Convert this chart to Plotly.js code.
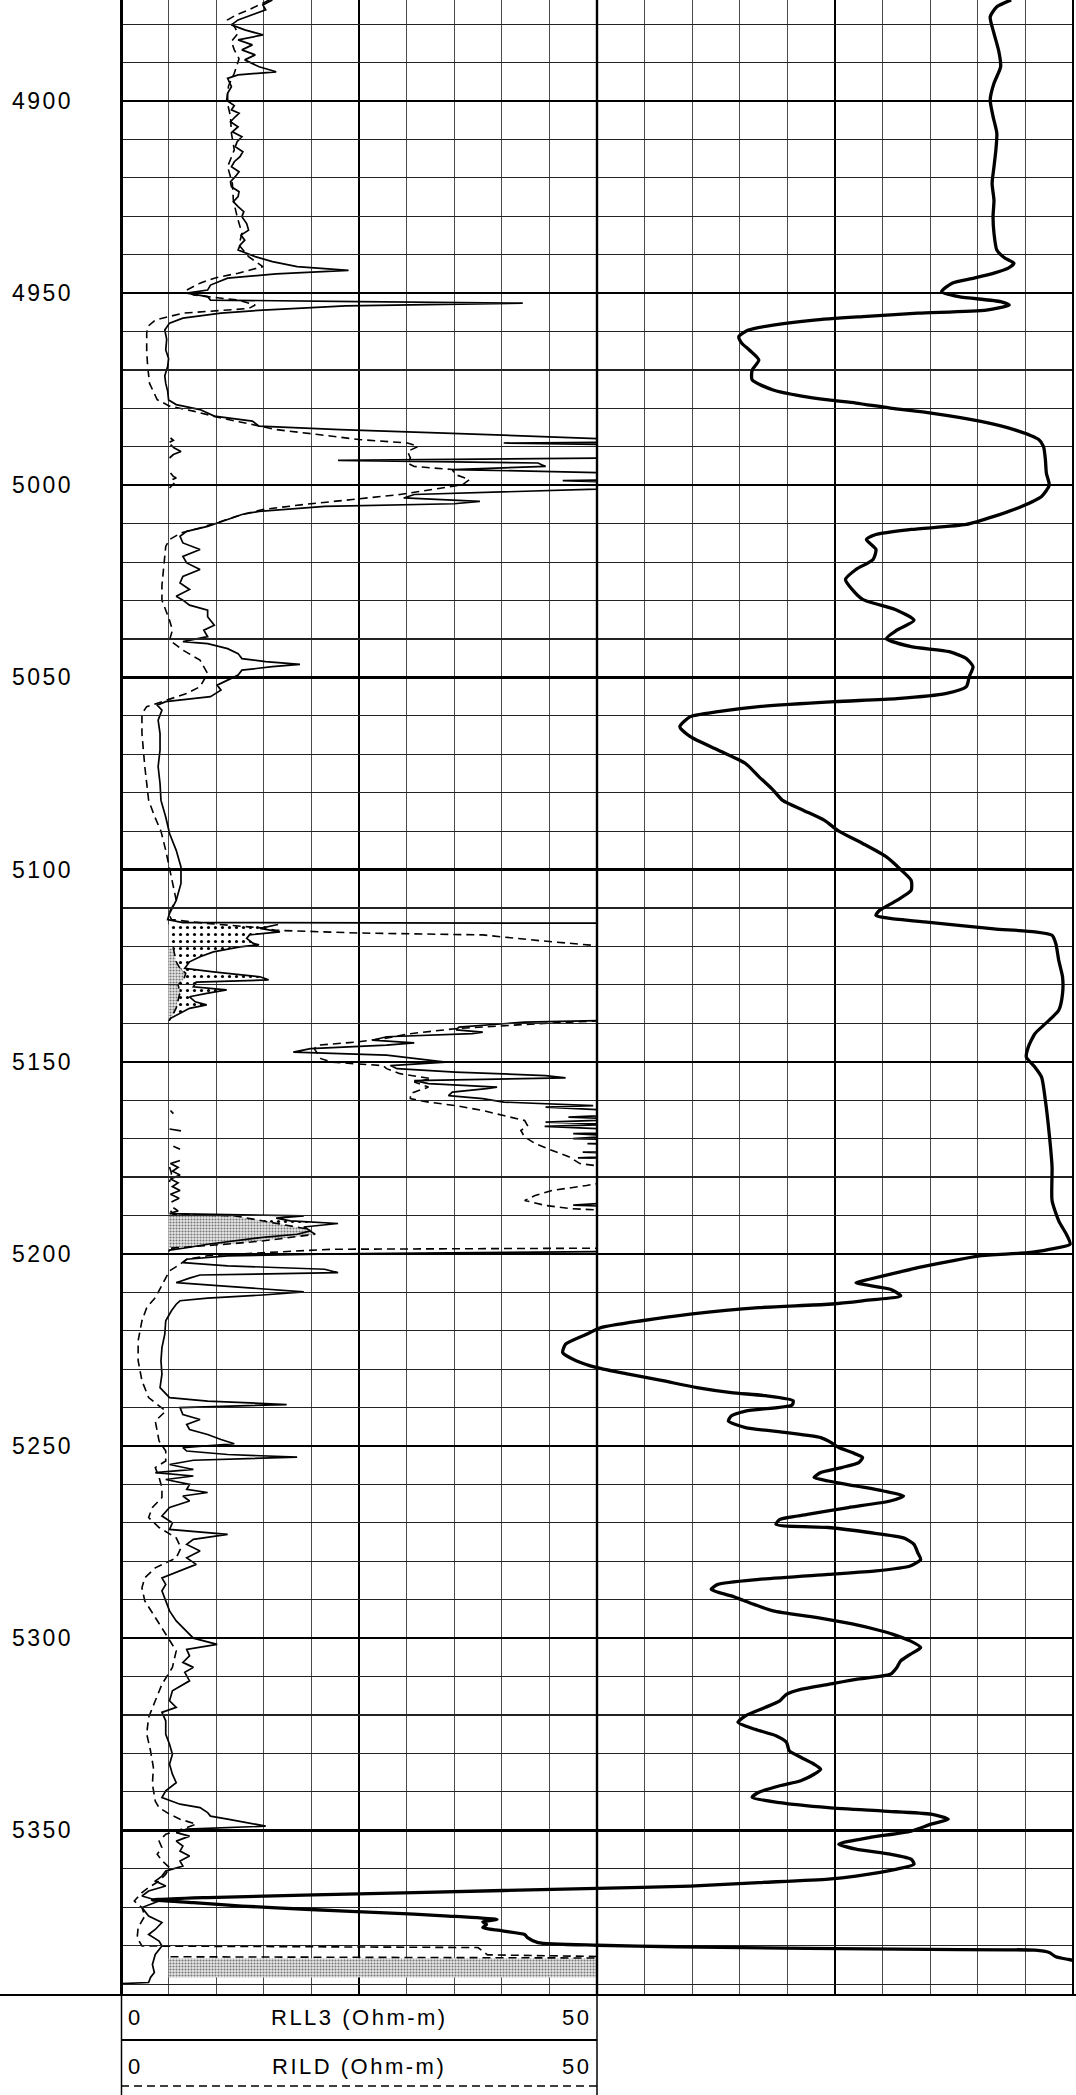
<!DOCTYPE html>
<html><head><meta charset="utf-8">
<script src="https://cdn.plot.ly/plotly-3.0.1.min.js"></script>
<style>
html,body{margin:0;padding:0;background:#fff;}
#chart{width:1076px;height:2095px;}
.annotation-text{letter-spacing:2.5px;}
</style></head><body><div id="chart"></div><script>
// ---------------- DATA ----------------
const depthTicks = [4900, 4950, 5000, 5050, 5100, 5150, 5200, 5250, 5300, 5350];
const depthTickText = ['4900','4950','5000','5050','5100','5150','5200','5250','5300','5350'];
const legendRows = [
  {name: 'RLL3 (Ohm-m)', lo: '0', hi: '50'},
  {name: 'RILD (Ohm-m)', lo: '0', hi: '50'}
];
// RLL3 [depth ft, ohm-m]; values above 50 are shown on the x10 back-up scale
const rll3Pts = [[4873.7,15.9],[4875.0,14.9],[4876.3,15.2],[4877.6,13.8],[4878.9,12.3],[4880.2,11.6],[4881.5,13.0],[4882.8,14.9],[4884.1,12.3],[4885.4,13.8],[4886.7,12.7],[4888.0,14.1],[4889.3,13.0],[4891.1,14.5],[4892.4,16.3],[4893.2,12.3],[4894.1,11.2],[4896.3,11.6],[4898.0,11.2],[4900.0,11.2],[4901.2,11.9],[4902.3,11.6],[4903.2,12.4],[4904.1,12.0],[4905.4,11.5],[4906.7,12.3],[4908.0,11.7],[4909.3,12.7],[4910.6,12.2],[4911.9,12.0],[4913.2,12.8],[4914.5,12.5],[4915.8,11.9],[4917.1,11.6],[4918.4,12.4],[4919.7,12.0],[4921.0,11.5],[4922.3,11.6],[4923.6,12.4],[4924.9,12.3],[4926.2,11.8],[4927.5,12.3],[4928.8,12.9],[4930.1,12.7],[4931.9,13.2],[4933.6,13.4],[4934.9,12.6],[4936.2,13.0],[4937.5,12.5],[4938.8,12.3],[4940.5,14.1],[4941.8,15.9],[4943.1,18.5],[4944.1,23.9],[4945.0,16.3],[4946.1,11.2],[4947.9,9.4],[4949.2,9.1],[4950.0,6.9],[4950.9,9.1],[4951.8,9.4],[4952.2,25.0],[4952.6,42.2],[4953.3,23.6],[4954.4,14.9],[4955.2,10.5],[4956.5,6.5],[4957.8,5.1],[4959.6,4.6],[4962.0,4.8],[4964.8,4.7],[4967.0,5.0],[4969.1,4.9],[4971.5,4.6],[4973.5,4.7],[4975.5,4.9],[4977.8,5.0],[4979.0,5.8],[4980.3,8.3],[4982.0,9.8],[4983.3,13.8],[4984.6,14.5],[4985.5,23.0],[4986.4,34.0],[4987.3,44.6],[4987.7,52],[4988.3,55],[4988.8,51],[4989.0,40.2],[4989.4,52],[4990.3,56],[4991.2,63],[4992.0,55],[4992.9,51],[4993.5,22.8],[4994.2,43.8],[4995.1,44.6],[4995.9,34.8],[4996.8,52],[4997.7,55],[4998.1,58],[4998.5,54],[4998.8,46.4],[4999.4,56],[5000.1,53],[5000.7,51],[5001.0,50],[5002.4,30.8],[5003.3,29.7],[5004.2,37.7],[5004.8,35.0],[5005.5,21.4],[5006.8,14.5],[5007.6,12.7],[5008.9,11.2],[5010.7,9.1],[5012.0,6.9],[5013.3,6.2],[5015.0,6.5],[5016.7,8.3],[5018.5,6.5],[5020.2,6.9],[5021.9,8.3],[5023.7,6.5],[5025.4,6.2],[5027.1,7.2],[5028.9,5.8],[5029.9,6.5],[5031.2,7.2],[5032.5,9.1],[5034.2,9.1],[5036.4,9.8],[5037.7,8.7],[5039.4,9.1],[5040.7,6.5],[5041.2,9.1],[5042.5,11.2],[5043.8,12.3],[5045.1,12.7],[5045.9,15.2],[5046.6,18.8],[5047.2,15.9],[5048.1,12.7],[5049.4,12.3],[5050.7,11.2],[5052.0,10.1],[5053.3,10.5],[5055.0,9.4],[5056.3,4.7],[5057.2,3.8],[5058.5,4.3],[5061.1,3.9],[5064.6,4.1],[5068.9,4.1],[5073.2,3.9],[5077.6,4.1],[5082.0,4.2],[5086.3,4.7],[5090.6,5.1],[5095.0,5.8],[5099.3,6.3],[5103.6,6.3],[5108.0,5.8],[5111.4,5.1],[5113.0,4.9],[5113.8,6.5],[5114.3,165],[5115.3,146],[5116.2,167],[5117.0,135],[5117.9,132],[5119.2,139],[5119.6,145],[5120.1,125],[5121.4,97],[5122.7,83],[5124.0,72],[5125.7,67],[5126.6,97],[5127.9,146],[5128.7,155],[5129.3,79],[5130.5,76],[5131.3,111],[5132.2,90],[5133.1,72],[5134.4,78],[5135.2,90],[5136.1,72],[5137.4,62],[5138.7,52],[5139.3,50.5],[5139.7,42.4],[5141.0,35.5],[5141.7,35.2],[5142.3,38.0],[5142.7,36.9],[5143.5,27.9],[5144.4,26.4],[5145.1,30.8],[5145.7,27.9],[5146.6,19.9],[5147.5,18.1],[5148.3,27.9],[5149.2,30.8],[5150.1,34.1],[5151.0,28.3],[5151.8,29.0],[5152.7,35.1],[5153.6,44.6],[5154.2,46.7],[5154.9,30.8],[5155.7,32.3],[5156.6,39.5],[5157.0,38.4],[5157.9,34.8],[5158.8,34.4],[5159.6,38.0],[5160.5,40.2],[5161.4,49.6],[5161.8,44.6],[5162.7,52],[5163.5,55],[5164.4,47],[5165.0,53],[5165.7,44.6],[5166.3,52],[5166.8,44.5],[5167.5,51],[5168.0,63],[5168.7,47.5],[5169.3,52],[5170.0,47.5],[5170.6,58],[5171.3,49],[5172.0,55],[5172.8,62],[5173.5,48.5],[5174.2,56],[5175.0,48],[5175.7,62],[5176.5,52],[5177.5,60],[5178.5,54],[5179.5,62],[5180.5,52],[5181.5,60],[5182.5,54],[5183.5,62],[5184.5,52],[5185.5,61],[5186.5,53],[5187.3,47.5],[5188.0,55],[5188.8,60],[5189.5,51],[5190.1,192],[5190.7,163],[5191.4,178],[5192.1,228],[5193.0,192],[5194.0,199],[5194.9,185],[5195.7,149],[5196.6,120],[5197.5,91],[5198.4,69],[5199.0,51],[5199.4,50.5],[5199.9,25.0],[5200.5,11.2],[5201.4,6.9],[5202.3,6.5],[5203.1,11.2],[5204.0,21.4],[5204.9,22.8],[5205.5,8.3],[5206.3,7.2],[5207.5,5.8],[5208.3,10.5],[5209.2,14.9],[5209.9,19.2],[5210.7,14.9],[5211.5,9.1],[5212.2,6.2],[5213.1,5.8],[5214.8,5.3],[5217.4,4.7],[5220.9,4.6],[5224.4,4.3],[5227.8,4.2],[5231.3,4.3],[5234.8,4.1],[5237.4,5.1],[5238.3,9.1],[5239.2,17.4],[5240.0,6.2],[5241.8,6.5],[5243.1,8.3],[5244.4,6.9],[5245.7,7.2],[5247.0,9.1],[5248.3,10.5],[5249.4,11.9],[5250.4,6.5],[5251.3,6.9],[5252.2,11.2],[5252.9,18.5],[5253.7,7.6],[5254.8,5.1],[5256.1,7.6],[5256.9,3.6],[5257.8,7.6],[5258.7,4.7],[5260.0,7.2],[5261.3,6.9],[5262.1,9.1],[5263.0,6.5],[5264.3,7.2],[5266.0,5.1],[5268.2,4.3],[5270.0,5.4],[5271.7,5.1],[5273.0,11.2],[5274.3,7.6],[5275.6,6.9],[5277.3,8.3],[5279.1,6.9],[5280.8,7.9],[5282.5,6.2],[5284.3,4.3],[5286.0,4.7],[5287.7,4.3],[5290.3,4.7],[5292.9,5.1],[5295.5,5.8],[5298.1,6.9],[5300.0,7.6],[5301.6,10.1],[5302.9,6.9],[5304.6,7.2],[5306.3,6.5],[5307.6,7.6],[5308.9,6.7],[5311.1,7.2],[5313.7,5.4],[5316.3,5.1],[5318.0,5.8],[5319.3,4.3],[5321.5,4.7],[5325.0,4.7],[5327.6,5.1],[5330.2,5.4],[5332.8,5.1],[5335.4,5.4],[5337.6,5.8],[5339.7,4.7],[5341.5,4.3],[5343.2,6.2],[5344.1,8.3],[5345.4,9.1],[5346.3,9.4],[5347.1,11.2],[5348.0,13.4],[5348.9,15.2],[5349.7,6.9],[5350.6,5.8],[5351.5,7.2],[5352.8,5.8],[5354.1,6.5],[5355.4,6.2],[5356.7,7.2],[5358.0,6.2],[5359.3,6.5],[5360.6,4.7],[5361.9,4.3],[5363.2,3.6],[5364.5,4.7],[5365.8,2.9],[5367.1,2.2],[5368.4,4.0],[5370.1,2.2],[5372.3,2.9],[5374.0,4.3],[5375.8,3.6],[5377.1,2.9],[5378.8,4.0],[5380.1,4.3],[5382.3,3.6],[5384.9,3.3],[5387.0,3.5],[5388.3,3.1],[5389.6,2.9],[5389.9,0]];

// RILD [depth ft, ohm-m]
const rildPts = [[4873.7,15.6],[4875.0,14.5],[4876.3,13.4],[4877.6,12.1],[4878.9,11.2],[4880.6,11.9],[4882.4,12.3],[4884.5,11.6],[4886.7,11.9],[4889.0,12.4],[4892.8,11.9],[4896.0,11.3],[4899.7,11.1],[4904.0,11.5],[4908.4,11.6],[4912.7,11.9],[4917.1,11.2],[4921.5,11.7],[4925.8,11.8],[4930.1,12.2],[4934.4,12.7],[4937.5,12.4],[4940.5,13.4],[4943.1,14.9],[4944.8,12.3],[4946.1,9.8],[4947.4,8.3],[4949.2,6.9],[4950.5,7.6],[4951.8,12.3],[4953.1,14.1],[4954.0,13.4],[4955.2,6.5],[4957.0,3.6],[4958.7,2.8],[4960.5,2.7],[4965.0,2.7],[4969.1,2.8],[4973.5,3.0],[4977.7,3.8],[4979.4,5.1],[4980.7,7.6],[4982.5,10.5],[4984.2,13.8],[4985.5,16.3],[4986.8,20.7],[4988.1,25.0],[4989.0,30.1],[4989.9,31.2],[4991.2,30.1],[4992.9,30.4],[4994.2,30.1],[4995.1,30.8],[4995.9,34.8],[4997.2,35.1],[4998.5,36.6],[4999.8,35.9],[5000.7,33.7],[5002.4,29.3],[5003.7,24.3],[5005.0,19.2],[5006.3,14.9],[5007.6,12.7],[5009.4,10.5],[5011.1,8.3],[5012.4,6.3],[5014.1,5.1],[5015.9,4.7],[5021.1,4.5],[5026.0,4.3],[5029.9,4.3],[5032.5,4.7],[5035.1,5.1],[5037.7,5.4],[5040.3,5.1],[5042.9,6.5],[5045.5,8.3],[5049.0,9.1],[5052.4,8.3],[5054.2,6.9],[5055.9,4.7],[5057.6,2.7],[5059.4,2.2],[5064.6,2.2],[5073.2,2.5],[5081.9,2.9],[5086.0,3.5],[5090.0,4.2],[5095.0,4.7],[5099.5,5.1],[5103.6,5.4],[5108.0,5.8],[5111.4,5.0],[5113.0,5.3],[5114.0,9.0],[5115.2,14.9],[5115.8,16.3],[5116.5,25],[5117.0,38],[5118.5,44],[5119.8,50],[5120.5,55],[5121.5,56],[5122.5,57],[5124.0,58],[5125.7,62],[5127.0,68],[5128.5,66],[5130.0,60],[5132.0,62],[5134.0,60],[5136.0,58],[5138.0,54],[5139.3,50.5],[5140.1,43.8],[5141.4,35.1],[5142.7,30.4],[5144.0,27.5],[5144.9,24.6],[5145.7,20.7],[5146.6,20.3],[5148.0,20.7],[5149.2,21.0],[5150.1,22.1],[5151.0,27.5],[5151.8,27.9],[5153.1,29.3],[5154.4,32.6],[5155.3,30.8],[5156.6,32.3],[5158.3,30.4],[5159.6,30.4],[5160.5,32.3],[5161.4,35.1],[5162.7,38.0],[5164.0,40.2],[5165.3,42.4],[5166.6,42.7],[5167.9,42.0],[5169.6,42.4],[5171.3,43.5],[5173.1,45.3],[5174.8,47.1],[5176.5,48.2],[5177.4,51],[5179.0,53],[5181.3,51],[5182.2,48.9],[5183.5,45.3],[5184.8,43.5],[5186.1,42.4],[5187.4,44.6],[5188.2,47.1],[5188.8,52],[5189.7,55],[5190.1,120],[5191.4,150],[5192.5,175],[5193.5,195],[5194.9,204],[5195.7,180],[5196.6,150],[5197.5,110],[5198.2,75],[5198.5,52],[5198.8,22.1],[5199.7,14.9],[5200.5,9.1],[5201.4,6.9],[5202.7,6.2],[5204.4,5.1],[5206.2,4.7],[5208.8,4.1],[5211.4,3.6],[5214.0,2.7],[5217.4,2.2],[5222.6,1.8],[5227.8,1.8],[5233.0,2.2],[5237.4,2.9],[5240.9,4.7],[5243.5,3.6],[5246.1,3.8],[5248.7,4.0],[5251.3,4.7],[5253.9,4.7],[5255.6,3.6],[5258.2,4.0],[5260.8,4.3],[5263.4,4.3],[5266.0,3.3],[5268.6,2.9],[5271.2,4.0],[5273.9,5.8],[5276.5,6.3],[5279.1,5.8],[5281.7,3.6],[5284.3,2.5],[5286.9,2.2],[5290.3,2.5],[5294.6,3.6],[5298.9,4.7],[5303.3,5.8],[5307.6,5.4],[5312.0,4.3],[5316.3,3.6],[5320.6,2.9],[5324.9,2.7],[5329.3,3.1],[5333.6,3.4],[5338.0,3.3],[5342.4,3.6],[5344.1,4.0],[5345.8,5.1],[5347.1,6.2],[5348.4,7.9],[5349.3,6.9],[5351.0,4.7],[5352.8,4.0],[5354.5,4.3],[5356.2,3.8],[5357.9,4.3],[5359.7,5.1],[5361.4,4.7],[5363.2,4.0],[5364.9,2.9],[5366.2,2.2],[5368.4,1.4],[5370.1,2.2],[5372.3,2.5],[5375.3,1.8],[5377.9,1.7],[5380.1,2.2],[5380.5,37.5],[5381.5,38.0],[5382.4,38.5],[5382.9,52],[5383.3,600],[5388.3,600]];

// Third (thick) curve, scale 0-100 across both tracks
const curve3Pts = [[4873.7,93.5],[4875.5,92.0],[4878.1,91.3],[4882.4,91.7],[4887.0,92.2],[4891.1,92.4],[4895.4,91.7],[4899.7,91.3],[4904.0,91.6],[4908.4,92.0],[4912.7,91.9],[4917.1,91.7],[4921.5,91.5],[4925.8,91.7],[4930.1,91.6],[4934.4,91.7],[4938.8,92.0],[4940.8,92.8],[4942.2,93.8],[4943.5,93.2],[4944.8,91.7],[4946.1,89.6],[4947.4,87.3],[4949.6,86.2],[4950.9,88.0],[4952.2,92.4],[4953.1,93.3],[4954.4,90.9],[4955.2,83.7],[4956.1,77.9],[4957.0,72.8],[4958.3,68.5],[4959.6,65.9],[4961.3,64.9],[4963.0,65.2],[4964.8,66.0],[4967.4,67.0],[4970.0,66.3],[4972.6,66.3],[4975.2,68.5],[4976.8,71.5],[4977.8,74.3],[4978.6,77.2],[4979.9,80.8],[4981.2,85.1],[4983.3,90.2],[4985.5,93.8],[4988.1,96.4],[4989.9,96.9],[4993.3,97.1],[4996.8,97.2],[5000.0,97.5],[5002.9,96.7],[5005.5,94.6],[5008.1,91.7],[5010.2,88.8],[5011.5,83.0],[5012.8,79.3],[5014.1,78.3],[5016.7,79.3],[5019.3,79.0],[5021.9,77.2],[5024.5,76.1],[5027.1,76.8],[5029.7,77.9],[5031.2,79.8],[5032.5,81.5],[5035.1,83.3],[5037.7,81.5],[5039.9,80.4],[5042.0,83.0],[5043.3,87.0],[5045.1,88.8],[5047.2,89.5],[5049.8,89.1],[5052.4,88.8],[5054.2,86.6],[5055.5,81.5],[5056.3,75.0],[5057.6,67.0],[5058.9,62.7],[5060.2,59.8],[5062.8,58.7],[5065.4,59.8],[5068.9,62.7],[5072.4,65.6],[5075.8,67.0],[5079.3,68.5],[5082.0,69.5],[5084.6,71.7],[5087.2,73.9],[5090.0,75.4],[5093.2,77.9],[5096.7,80.4],[5100.0,81.9],[5102.8,83.0],[5105.4,83.0],[5108.0,81.5],[5110.6,79.7],[5111.9,79.3],[5112.7,80.8],[5113.6,84.4],[5114.5,88.0],[5115.4,91.7],[5116.2,96.0],[5117.1,97.8],[5119.3,98.2],[5123.6,98.5],[5127.9,98.9],[5132.3,98.9],[5136.6,98.5],[5140.1,97.1],[5142.7,96.0],[5146.2,95.3],[5148.8,95.1],[5151.4,96.0],[5154.0,96.7],[5160.1,97.1],[5168.7,97.5],[5177.4,97.8],[5186.1,97.8],[5191.4,98.5],[5194.9,99.3],[5197.5,99.7],[5198.8,97.5],[5199.7,95.3],[5200.5,90.2],[5201.8,87.3],[5203.6,83.7],[5204.9,81.5],[5206.6,78.6],[5207.5,77.2],[5209.2,80.8],[5210.9,81.9],[5212.2,77.9],[5213.1,74.3],[5214.0,67.0],[5215.7,59.8],[5217.4,54.7],[5219.2,50.4],[5220.9,48.9],[5223.5,46.7],[5225.7,46.4],[5227.8,47.8],[5229.6,50.0],[5231.3,53.3],[5233.0,56.9],[5234.8,60.5],[5236.1,64.1],[5236.9,67.7],[5238.2,70.6],[5239.3,70.5],[5240.9,65.6],[5242.2,64.1],[5243.5,63.8],[5245.2,65.6],[5246.5,69.9],[5247.8,73.5],[5249.1,74.6],[5250.4,75.4],[5251.7,76.8],[5253.0,77.9],[5254.3,77.5],[5255.6,75.7],[5256.9,73.5],[5258.2,72.8],[5259.1,74.3],[5260.4,77.2],[5261.7,80.1],[5263.0,82.2],[5264.3,80.8],[5266.0,76.4],[5267.8,72.1],[5269.1,69.2],[5270.4,68.8],[5271.2,74.3],[5272.5,78.6],[5273.9,82.2],[5275.6,83.3],[5277.8,83.7],[5279.5,84.0],[5281.2,82.9],[5282.5,79.3],[5283.4,74.3],[5284.7,67.0],[5286.0,62.7],[5287.3,62.0],[5289.0,64.1],[5291.2,66.5],[5292.9,68.5],[5294.6,73.0],[5296.3,76.8],[5298.0,79.7],[5299.0,81.1],[5300.7,82.9],[5302.4,84.0],[5304.2,82.9],[5305.9,81.9],[5307.6,81.5],[5309.4,80.8],[5310.7,77.2],[5312.0,74.3],[5313.3,71.4],[5314.6,69.9],[5316.3,69.2],[5318.0,67.7],[5320.2,65.6],[5321.9,64.8],[5323.7,66.6],[5325.4,68.8],[5327.1,69.9],[5329.3,70.2],[5331.0,71.4],[5332.8,72.8],[5334.1,73.5],[5335.4,72.8],[5337.1,71.4],[5338.4,69.2],[5340.1,67.0],[5341.4,66.3],[5342.8,69.2],[5344.1,74.3],[5345.0,80.1],[5345.8,85.1],[5347.1,86.9],[5348.4,85.1],[5350.2,83.0],[5351.9,78.6],[5353.6,75.4],[5354.9,77.2],[5356.2,80.8],[5357.5,83.0],[5358.8,83.3],[5360.1,81.5],[5361.9,77.2],[5362.7,74.3],[5363.6,67.0],[5364.5,59.8],[5365.1,50.0],[5366.2,30.8],[5367.5,9.1],[5368.1,3.3],[5368.8,7.6],[5369.7,12.7],[5370.6,19.9],[5371.4,27.2],[5372.3,34.4],[5373.2,39.5],[5373.8,38.0],[5374.5,38.4],[5375.3,38.0],[5376.2,40.2],[5377.1,42.4],[5377.9,42.7],[5379.2,43.8],[5379.9,50.0],[5380.3,58.3],[5380.7,72.0],[5381.0,85.0],[5381.2,96.0],[5381.8,97.5],[5382.9,98.2],[5383.6,99.5],[5384.3,101]];

// shaded zones (depth ranges)
const sparseZones = [[5114.3, 5139.3], [5189.5, 5199.0]];   // RLL3 back-up fill
const denseZones  = [[5120.5, 5139.3], [5189.7, 5198.5], [5383.3, 5388.3]]; // RILD back-up fill
const baseValue = 5;

// ---------------- GEOMETRY ----------------
const W = 1076, H = 2095, ML = 121, MR = 3, MT = 0, MB = 100;
const PW = W - ML - MR, PH = H - MT - MB;
const px = x => (x - ML) / PW;
const py = y => (H - MB - y) / PH;
const Y_TOP = 4873.72, Y_BOT = 5392.85;
const FONT = 'Liberation Sans, Arial, Helvetica, sans-serif';

const dep = pts => pts.map(p => p[0]);
const val = pts => pts.map(p => p[1]);
const bk = pts => pts.map(p => p[1] > 50 ? p[1] / 10 : null);
const bkClip = v => v > 50 ? Math.min(v / 10, 50) : baseValue;

function zonePoly(pts, zone) {
  const xs = [baseValue], ys = [zone[0]];
  pts.forEach(([d, v]) => {
    if (d >= zone[0] - 1e-6 && d <= zone[1] + 1e-6) { xs.push(bkClip(v)); ys.push(d); }
  });
  xs.push(baseValue); ys.push(zone[1]);
  xs.push(baseValue); ys.push(zone[0]);
  return {xs, ys};
}

const traces = [];
// dummy trace so the right track subplot (x2) exists
traces.push({x: [null], y: [null], xaxis: 'x2', yaxis: 'y', mode: 'lines', hoverinfo: 'skip'});
sparseZones.forEach(z => {
  const p = zonePoly(rll3Pts, z);
  traces.push({x: p.xs, y: p.ys, xaxis: 'x', yaxis: 'y', mode: 'lines', fill: 'toself',
    line: {width: 0, color: 'rgba(0,0,0,0)'}, fillcolor: '#ffffff',
    fillpattern: {shape: '.', size: 7, solidity: 0.16, fgcolor: '#000000', bgcolor: '#ffffff'},
    hoverinfo: 'skip'});
});
denseZones.forEach(z => {
  const p = zonePoly(rildPts, z);
  traces.push({x: p.xs, y: p.ys, xaxis: 'x', yaxis: 'y', mode: 'lines', fill: 'toself',
    line: {width: 0, color: 'rgba(0,0,0,0)'}, fillcolor: '#dcdcdc',
    fillpattern: {shape: '.', size: 3, solidity: 0.4, fgcolor: '#777777', bgcolor: '#e8e8e8'},
    hoverinfo: 'skip'});
});
// RLL3 main + back-up
traces.push({x: val(rll3Pts), y: dep(rll3Pts), xaxis: 'x', yaxis: 'y', mode: 'lines', name: 'RLL3',
  line: {color: '#000', width: 1.7}});
traces.push({x: bk(rll3Pts), y: dep(rll3Pts), xaxis: 'x', yaxis: 'y', mode: 'lines', name: 'RLL3 x10',
  connectgaps: false, line: {color: '#000', width: 1.7}});
// RILD main + back-up
traces.push({x: val(rildPts), y: dep(rildPts), xaxis: 'x', yaxis: 'y', mode: 'lines', name: 'RILD',
  line: {color: '#000', width: 1.6, dash: '8px,5px'}});
traces.push({x: bk(rildPts), y: dep(rildPts), xaxis: 'x', yaxis: 'y', mode: 'lines', name: 'RILD x10',
  connectgaps: false, line: {color: '#000', width: 1.6, dash: '8px,5px'}});
// thick curve across both tracks
traces.push({x: val(curve3Pts), y: dep(curve3Pts), xaxis: 'x3', yaxis: 'y', mode: 'lines', name: 'curve',
  line: {color: '#000', width: 3.3, shape: 'spline', smoothing: 0.6}});

const trackAxis = domain => ({
  domain, range: [0, 50], anchor: 'y', showgrid: true, tick0: 0, dtick: 25,
  gridcolor: '#000', gridwidth: 1.8,
  minor: {tick0: 0, dtick: 5, showgrid: true, gridcolor: '#4a4a4a', gridwidth: 1, ticklen: 0},
  showticklabels: false, ticks: '', zeroline: false, showline: false, fixedrange: true
});

const shapes = [];
const vline = (x, y0, y1, w) => shapes.push({type: 'line', xref: 'paper', yref: 'paper',
  x0: px(x), x1: px(x), y0: py(y0), y1: py(y1), line: {color: '#000', width: w}});
const hline = (y, x0, x1, w, dash) => shapes.push({type: 'line', xref: 'paper', yref: 'paper',
  x0: px(x0), x1: px(x1), y0: py(y), y1: py(y), line: {color: '#000', width: w, dash: dash || 'solid'}});
// track borders
vline(121.5, 0, 1995, 3);
vline(597, 0, 1995, 2.4);
vline(1073, 0, 1995, 2);
// legend frame
hline(1995, 0, 1076, 1.8);
vline(121.5, 1995, 2095, 1.5);
vline(597, 1995, 2095, 1.5);
hline(2040, 121, 597, 2.2);
hline(2086, 121, 597, 1.6, '8px,5px');

const annotations = [];
depthTicks.forEach((d, i) => annotations.push({
  x: px(10), xref: 'paper', y: d, yref: 'y', xanchor: 'left', yanchor: 'middle',
  text: depthTickText[i], showarrow: false, font: {family: FONT, size: 23, color: '#000'}
}));
const rowY = [2017, 2066];
legendRows.forEach((r, i) => {
  const y = py(rowY[i]);
  annotations.push({x: px(126), xref: 'paper', y, yref: 'paper', xanchor: 'left', yanchor: 'middle',
    text: r.lo, showarrow: false, font: {family: FONT, size: 22, color: '#000'}});
  annotations.push({x: px(359), xref: 'paper', y, yref: 'paper', xanchor: 'center', yanchor: 'middle',
    text: r.name, showarrow: false, font: {family: FONT, size: 22, color: '#000'}});
  annotations.push({x: px(593), xref: 'paper', y, yref: 'paper', xanchor: 'right', yanchor: 'middle',
    text: r.hi, showarrow: false, font: {family: FONT, size: 22, color: '#000'}});
});

const layout = {
  width: W, height: H, margin: {l: ML, r: MR, t: MT, b: MB, pad: 0},
  paper_bgcolor: '#ffffff', plot_bgcolor: 'rgba(0,0,0,0)', showlegend: false,
  font: {family: FONT, color: '#000'},
  xaxis: trackAxis([0, 0.5]),
  xaxis2: trackAxis([0.5, 1]),
  xaxis3: {domain: [0, 1], range: [0, 100], anchor: 'y', visible: false, showgrid: false, zeroline: false, fixedrange: true},
  yaxis: {domain: [0, 1], range: [Y_BOT, Y_TOP], anchor: 'x', showgrid: true, tick0: 4900, dtick: 50,
    gridcolor: '#000', gridwidth: 2.4,
    minor: {tick0: 4900, dtick: 10, showgrid: true, gridcolor: '#222', gridwidth: 1.1, ticklen: 0},
    showticklabels: false, ticks: '', zeroline: false, showline: false, fixedrange: true},
  shapes, annotations
};

Plotly.newPlot('chart', traces, layout, {staticPlot: true, displayModeBar: false});
</script></body></html>
